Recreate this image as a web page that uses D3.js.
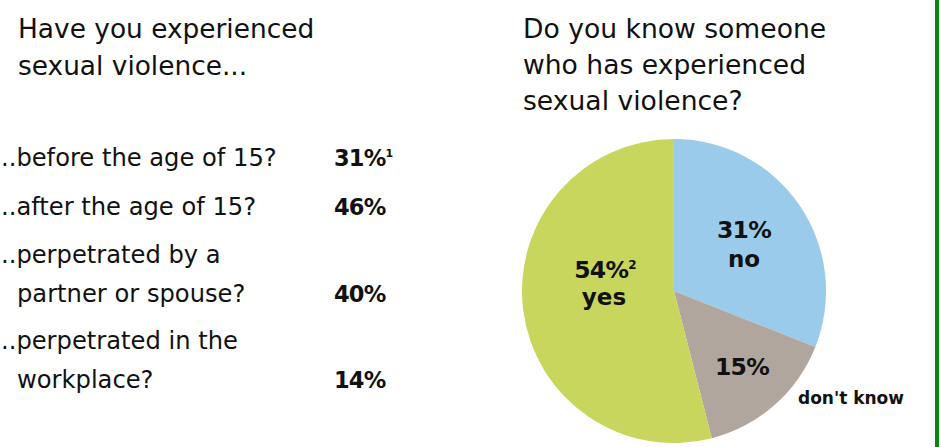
<!DOCTYPE html>
<html>
<head>
<meta charset="utf-8">
<script src="https://cdn.jsdelivr.net/npm/d3@7"></script>
<style>
  html, body { margin: 0; padding: 0; background: #fff; }
  svg { display: block; font-family: "DejaVu Sans", sans-serif; }
</style>
</head>
<body>
<svg id="area" width="941" height="447"></svg>
<script>
const leftTitle = ['Have you experienced', 'sexual violence...'];
const rightTitle = ['Do you know someone', 'who has experienced', 'sexual violence?'];

const questions = [
  ['..before the age of 15?'],
  ['..after the age of 15?'],
  ['..perpetrated by a', 'partner or spouse?'],
  ['..perpetrated in the', 'workplace?']
];
const shares = [31, 46, 40, 14];
const notes = ['1', '', '', ''];

const answers = ['no', "don't know", 'yes'];
const answerValues = [31, 15, 54];
const answerNotes = ['', '', '2'];
const answerColors = ['#9bcbea', '#b0a69e', '#c8d65d'];

const svg = d3.select('#area');

// green rule on the right edge
svg.append('rect')
  .attr('x', 931).attr('y', 0).attr('width', 4).attr('height', 447)
  .attr('fill', '#f9f9f9');
svg.append('rect')
  .attr('x', 935).attr('y', 0).attr('width', 4).attr('height', 447)
  .attr('fill', '#0a860a');

// titles
svg.append('g')
  .selectAll('text')
  .data(leftTitle)
  .join('text')
  .attr('x', 18)
  .attr('y', (d, i) => 38 + i * 37)
  .attr('font-size', 26.4)
  .attr('fill', '#111')
  .text((d) => d);

svg.append('g')
  .selectAll('text')
  .data(rightTitle)
  .join('text')
  .attr('x', 523)
  .attr('y', (d, i) => 38 + i * 36)
  .attr('font-size', 26.6)
  .attr('fill', '#111')
  .text((d) => d);

// question list
const rowY = [166, 215, 263, 349];
const lineGap = 38.5;
const rows = svg.append('g')
  .selectAll('g')
  .data(questions)
  .join('g')
  .attr('transform', (d, i) => `translate(0,${rowY[i]})`);

rows.selectAll('text.q')
  .data((d) => d)
  .join('text')
  .attr('class', 'q')
  .attr('x', (d, i) => (i === 0 ? 1 : 17))
  .attr('y', (d, i) => i * lineGap)
  .attr('font-size', 24.2)
  .attr('fill', '#111')
  .text((d) => d);

const pct = rows.append('text')
  .attr('x', 334)
  .attr('y', (d) => (d.length - 1) * lineGap)
  .attr('font-size', 22.5)
  .attr('font-weight', 'bold')
  .attr('letter-spacing', -0.8)
  .attr('fill', '#111');
pct.append('tspan').text((d, i) => `${shares[i]}%`);
pct.append('tspan')
  .attr('font-size', 11)
  .attr('dy', -9)
  .text((d, i) => notes[i]);

// pie
const cx = 674;
const cy = 291;
const radius = 152;

const pie = d3.pie().sort(null).value((d) => d);
const arc = d3.arc().innerRadius(0).outerRadius(radius);
const arcs = pie(answerValues);

const g = svg.append('g').attr('transform', `translate(${cx},${cy})`);
g.selectAll('path')
  .data(arcs)
  .join('path')
  .attr('d', arc)
  .attr('fill', (d, i) => answerColors[i]);

const labelPos = [[70, -53], [68, 84], [-69, -13]];
const lab = g.selectAll('text.v')
  .data(arcs)
  .join('text')
  .attr('class', 'v')
  .attr('font-size', 23.5)
  .attr('font-weight', 'bold')
  .attr('letter-spacing', -0.8)
  .attr('fill', '#111')
  .attr('text-anchor', 'middle')
  .attr('x', (d, i) => labelPos[i][0])
  .attr('y', (d, i) => labelPos[i][1]);
lab.append('tspan').text((d) => `${d.value}%`);
lab.append('tspan')
  .attr('font-size', 12)
  .attr('dy', -9)
  .text((d, i) => answerNotes[i]);

// category names inside / outside the pie
const namePos = [[70, -24, 23, 'middle'], [124, 113, 17, 'start'], [-70, 14, 23, 'middle']];
g.selectAll('text.n')
  .data(answers)
  .join('text')
  .attr('class', 'n')
  .attr('font-weight', 'bold')
  .attr('fill', '#111')
  .attr('text-anchor', (d, i) => namePos[i][3])
  .attr('font-size', (d, i) => namePos[i][2])
  .attr('x', (d, i) => namePos[i][0])
  .attr('y', (d, i) => namePos[i][1])
  .text((d) => d);
</script>
</body>
</html>
